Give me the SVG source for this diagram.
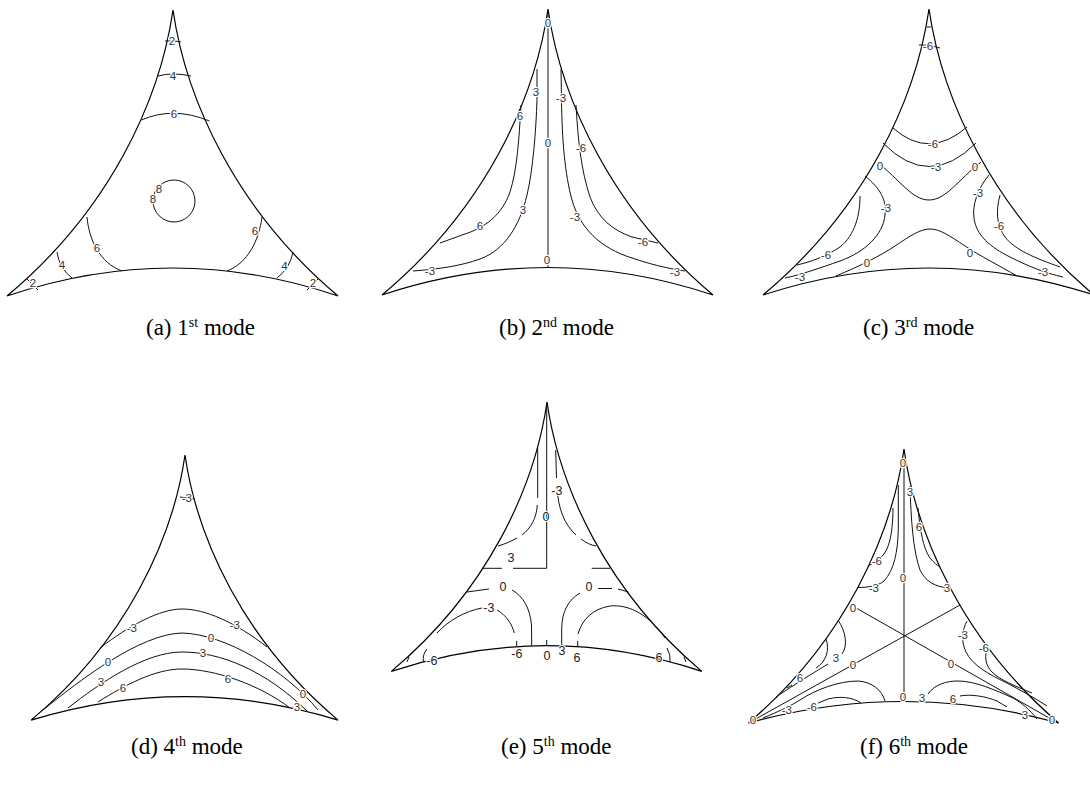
<svg xmlns="http://www.w3.org/2000/svg" width="1090" height="793" viewBox="0 0 1090 793">
<style>
.edge{fill:none;stroke:#000;stroke-width:1.2}
.c{fill:none;stroke:#111;stroke-width:1}
.lb{font-family:"Liberation Sans",Arial,sans-serif;font-size:11.5px;fill:#333;text-anchor:middle;stroke:#fff;stroke-width:2.5px;paint-order:stroke;stroke-linejoin:round;transform:rotate(0.01deg)}
.lbe{font-family:"Liberation Sans",Arial,sans-serif;font-size:12.5px;fill:#222;text-anchor:middle;stroke:#fff;stroke-width:2px;paint-order:stroke;stroke-linejoin:round;transform:rotate(0.01deg)}
.cap{font-family:"Liberation Serif","Times New Roman",serif;font-size:23px;fill:#000}
</style>
<rect width="1090" height="793" fill="#fff"/>

<!-- (a) 1st mode -->
<g id="panel-a">
<path class="edge" d="M173,10 C160,100 110,210 7,296 Q173,240 338,296 C236,210 186,100 173,10 Z"/>
<path class="c" d="M165,41 Q173,40 181,42"/>
<path class="c" d="M158,76 Q173,72 191,76"/>
<path class="c" d="M141.5,120 Q173,106 209.5,121"/>
<circle class="c" cx="174" cy="201" r="21"/>
<path class="c" d="M87,217 C89,240 100,263 122,271"/>
<path class="c" d="M57,252 Q59,268 72,278"/>
<path class="c" d="M27,279 L38,290"/>
<path class="c" d="M262,217 C259,240 248,263 227,271"/>
<path class="c" d="M293,252 Q290,268 277,278"/>
<path class="c" d="M318,279 L307,290"/>
<text class="lb" x="172" y="45">2</text>
<text class="lb" x="173" y="80">4</text>
<text class="lb" x="174" y="117.5">6</text>
<text class="lb" x="159" y="193">8</text>
<text class="lb" x="153" y="203">8</text>
<text class="lb" x="97" y="252">6</text>
<text class="lb" x="62" y="269">4</text>
<text class="lb" x="33" y="287">2</text>
<text class="lb" x="255" y="235">6</text>
<text class="lb" x="284.5" y="269.5">4</text>
<text class="lb" x="313" y="287">2</text>
</g>

<!-- (b) 2nd mode -->
<g id="panel-b">
<path class="edge" d="M548,9 C535,99 485,209 382,295 Q548,240 713,295 C611,209 561,99 548,9 Z"/>
<path class="c" d="M548,13 L548,267"/>
<path class="c" d="M537,69 L537,100 C536,130 533,170 527,195 C520,225 505,250 480,259 C460,266 440,269 413,271"/>
<path class="c" d="M521,105 C519,140 517,170 510,192 C502,215 485,228 462,235 L440,243"/>
<path class="c" d="M561,69 L561.5,100 C562,140 565,175 572,200 C580,228 600,248 632,258 C650,264 665,268 685,271"/>
<path class="c" d="M576,105 C578,140 581,170 590,197 C598,218 612,230 632,237 L658,243"/>
<text class="lb" x="548" y="27">0</text>
<text class="lb" x="548" y="147">0</text>
<text class="lb" x="547" y="264">0</text>
<text class="lb" x="536" y="95.5">3</text>
<text class="lb" x="523" y="214">3</text>
<text class="lb" x="430" y="274.5">-3</text>
<text class="lb" x="520" y="119.5">6</text>
<text class="lb" x="480" y="230">6</text>
<text class="lb" x="561" y="102">-3</text>
<text class="lb" x="575" y="220.5">-3</text>
<text class="lb" x="675" y="275.5">-3</text>
<text class="lb" x="581" y="152">-6</text>
<text class="lb" x="643" y="245.5">-6</text>
</g>

<!-- (c) 3rd mode -->
<g id="panel-c">
<path class="edge" d="M929,9 C916,99 866,209 763,295 Q929,241 1094,295 C992,209 942,99 929,9 Z"/>
<path class="c" d="M927,27 L931,27"/>
<path class="c" d="M919,45 Q929,44 940,48"/>
<path class="c" d="M893,128 Q929,160 967,127"/>
<path class="c" d="M883,143 Q929,190 976,143"/>
<path class="c" d="M877,162 C900,180 912,200 929,200 C946,200 958,180 981,162"/>
<path class="c" d="M860,196 C860,215 855,235 840,247 C825,257 810,262 797,265"/>
<path class="c" d="M865,176 C880,188 887,200 885,215 C883,235 865,252 840,261 C820,268 800,275 785,278"/>
<path class="c" d="M836,276 C860,266 880,256 895,246 C910,236 920,229 930,229 C940,229 950,236 965,246 C980,256 1000,266 1017,276"/>
<path class="c" d="M989,175 C978,188 972,205 974,218 C976,235 990,247 1010,257 C1030,267 1045,273 1063,277"/>
<path class="c" d="M1000,195 C996,210 996,225 1005,237 C1015,250 1035,258 1060,267"/>
<text class="lb" x="928" y="50">-6</text>
<text class="lb" x="933" y="148">-6</text>
<text class="lb" x="936" y="170.5">-3</text>
<text class="lb" x="880" y="169.5">0</text>
<text class="lb" x="975" y="170.5">0</text>
<text class="lb" x="826" y="259">-6</text>
<text class="lb" x="886" y="212">-3</text>
<text class="lb" x="800" y="280.5">-3</text>
<text class="lb" x="867" y="267">0</text>
<text class="lb" x="970" y="257">0</text>
<text class="lb" x="978" y="196.5">-3</text>
<text class="lb" x="1043" y="275.5">-3</text>
<text class="lb" x="999" y="230">-6</text>
</g>

<!-- (d) 4th mode -->
<g id="panel-d">
<path class="edge" d="M185,455 C173,538.4 126.6,640.4 31.1,720.1 Q185,673 338,720.1 C243.4,640.4 197,538.4 185,455 Z"/>
<path class="c" d="M180,497 L195,499"/>
<path class="c" d="M100,648 C130,625 160,609 182,609 C205,609 235,622 267,647"/>
<path class="c" d="M43,710 C80,680 140,634 182,633 C225,634 285,670 318,710"/>
<path class="c" d="M68,708 C100,683 145,652 182,652 C220,652 265,670 307,711"/>
<path class="c" d="M98,702 C125,685 155,669 182,669 C215,669 260,685 290,708"/>
<text class="lb" x="187" y="502">-3</text>
<text class="lb" x="132" y="632">-3</text>
<text class="lb" x="235" y="629">-3</text>
<text class="lb" x="108" y="665.5">0</text>
<text class="lb" x="211" y="641.5">0</text>
<text class="lb" x="303" y="698">0</text>
<text class="lb" x="101" y="686">3</text>
<text class="lb" x="203" y="657">3</text>
<text class="lb" x="297" y="710.5">3</text>
<text class="lb" x="123" y="692">6</text>
<text class="lb" x="228" y="683">6</text>
</g>

<!-- (e) 5th mode -->
<g id="panel-e">
<path class="edge" d="M547,402 C534.8,486.8 487.9,590.4 391.3,671.4 Q547,620 701.8,671.4 C606.1,590.4 559.2,486.8 547,402 Z"/>
<path class="c" d="M546.7,403 L546.7,568.3"/>
<path class="c" d="M483,568.3 L502,568.3 M513,568.3 L546.7,568.3"/>
<path class="c" d="M591.7,568.3 L610,568.3"/>
<path class="c" d="M537.7,448 L537.7,498 M537.3,505 C536.5,518 531,528 522,535 M517,538 C512,541 505,544 498,546"/>
<path class="c" d="M555.7,450 L556.5,478 M557,486 C558,510 565,525 576,535 M581,539 C586,543 591,545 596,546"/>
<path class="c" d="M467,592 L489,589 M512,590 C523,596 530,608 531.5,625 L531.7,645.5"/>
<path class="c" d="M561.7,645.5 L561.7,628 C562,612 568,600 580,593 M598,588.5 L612,588.5 M618,589 L628.5,592"/>
<path class="c" d="M437,633 C448,621 465,611 482,608 M497,610 C506,615 512,624 514.3,633"/>
<path class="c" d="M578,634 C582,620 592,609 610,606 C630,604 650,616 665,638"/>
<path class="c" d="M516.7,641 L516.7,646.5 M546.7,640 L546.7,645.7 M577.7,641 L577.7,646.5"/>
<path class="c" d="M427,649 Q422,655 423.5,662 M409,657 L407,662"/>
<path class="c" d="M667,648 Q671,655 670,662 M684,657 L686,662"/>
<text class="lbe" x="557" y="495">-3</text>
<text class="lbe" x="546" y="521">0</text>
<text class="lbe" x="511" y="562">3</text>
<text class="lbe" x="503" y="591">0</text>
<text class="lbe" x="589" y="591">0</text>
<text class="lbe" x="489" y="612">-3</text>
<text class="lbe" x="517" y="658">-6</text>
<text class="lbe" x="547" y="660">0</text>
<text class="lbe" x="562" y="655">3</text>
<text class="lbe" x="577" y="662">6</text>
<text class="lbe" x="432" y="665">-6</text>
<text class="lbe" x="659" y="662">6</text>
</g>

<!-- (f) 6th mode -->
<g id="panel-f">
<path class="edge" d="M904,449 C891.8,535.2 845,640.6 748.5,723 Q904,680 1058.6,723 C963,640.6 916.2,535.2 904,449 Z"/>
<path class="c" d="M904,458 L904,701"/>
<path class="c" d="M856.7,608.3 L1058,723"/>
<path class="c" d="M960,605 L748.5,723"/>
<path class="c" d="M898.3,485 L898.3,528 C898,552 894,570 884,581 C878,586 868,587.5 858,587.5"/>
<path class="c" d="M893,508 C893,525 891,545 884,554 C880,559 874,563 868,566"/>
<path class="c" d="M910,486 C911,520 913,550 920,570 C926,582 935,587 950,588"/>
<path class="c" d="M918,508 C920,530 923,548 930,558 C934,563 937,565 940,567"/>
<path class="c" d="M838,620 C846,632 848,646 842,654 M828,664 C815,672 795,684 776,697"/>
<path class="c" d="M826,639 C830,650 826,662 816,668 M792,685 L787,688"/>
<path class="c" d="M885,701 C882,690 872,682 858,681 C838,681 815,690 800,700 C792,705 780,711 763,718"/>
<path class="c" d="M861,703 C852,697 840,696 828,699 L818,703"/>
<path class="c" d="M928,694 C935,684 947,681 958,681 C975,681 995,690 1013,698 C1022,703 1030,710 1037,719"/>
<path class="c" d="M960,696 C970,694 985,696 997,701 L1007,707"/>
<path class="c" d="M967,621 C962,630 961,642 966,652 C972,665 990,675 1005,682 C1020,690 1035,698 1047,706"/>
<path class="c" d="M988,646 C984,655 985,665 992,672 C1000,680 1015,686 1032,693"/>
<text class="lb" x="903" y="467">0</text>
<text class="lb" x="903" y="582">0</text>
<text class="lb" x="903" y="700.5">0</text>
<text class="lb" x="853" y="612">0</text>
<text class="lb" x="951" y="668">0</text>
<text class="lb" x="853" y="668.5">0</text>
<text class="lb" x="753" y="724">0</text>
<text class="lb" x="1052" y="724">0</text>
<text class="lb" x="874" y="591.5">-3</text>
<text class="lb" x="877" y="565">-6</text>
<text class="lb" x="910" y="495.5">3</text>
<text class="lb" x="947" y="591.5">3</text>
<text class="lb" x="919" y="530.5">6</text>
<text class="lb" x="836" y="662">3</text>
<text class="lb" x="800" y="681.5">6</text>
<text class="lb" x="787" y="714">-3</text>
<text class="lb" x="812" y="710.5">-6</text>
<text class="lb" x="922" y="701.5">3</text>
<text class="lb" x="953" y="703">6</text>
<text class="lb" x="1025" y="718.5">3</text>
<text class="lb" x="963" y="639">-3</text>
<text class="lb" x="984" y="652">-6</text>
</g>

<g id="captions">
<text class="cap" x="146" y="335">(a) 1<tspan dy="-8" font-size="14">st</tspan><tspan dy="8"> mode</tspan></text>
<text class="cap" x="499" y="335">(b) 2<tspan dy="-8" font-size="14">nd</tspan><tspan dy="8"> mode</tspan></text>
<text class="cap" x="863" y="335">(c) 3<tspan dy="-8" font-size="14">rd</tspan><tspan dy="8"> mode</tspan></text>
<text class="cap" x="131" y="754">(d) 4<tspan dy="-8" font-size="14">th</tspan><tspan dy="8"> mode</tspan></text>
<text class="cap" x="501" y="754">(e) 5<tspan dy="-8" font-size="14">th</tspan><tspan dy="8"> mode</tspan></text>
<text class="cap" x="860" y="754">(f) 6<tspan dy="-8" font-size="14">th</tspan><tspan dy="8"> mode</tspan></text>
</g>
</svg>
